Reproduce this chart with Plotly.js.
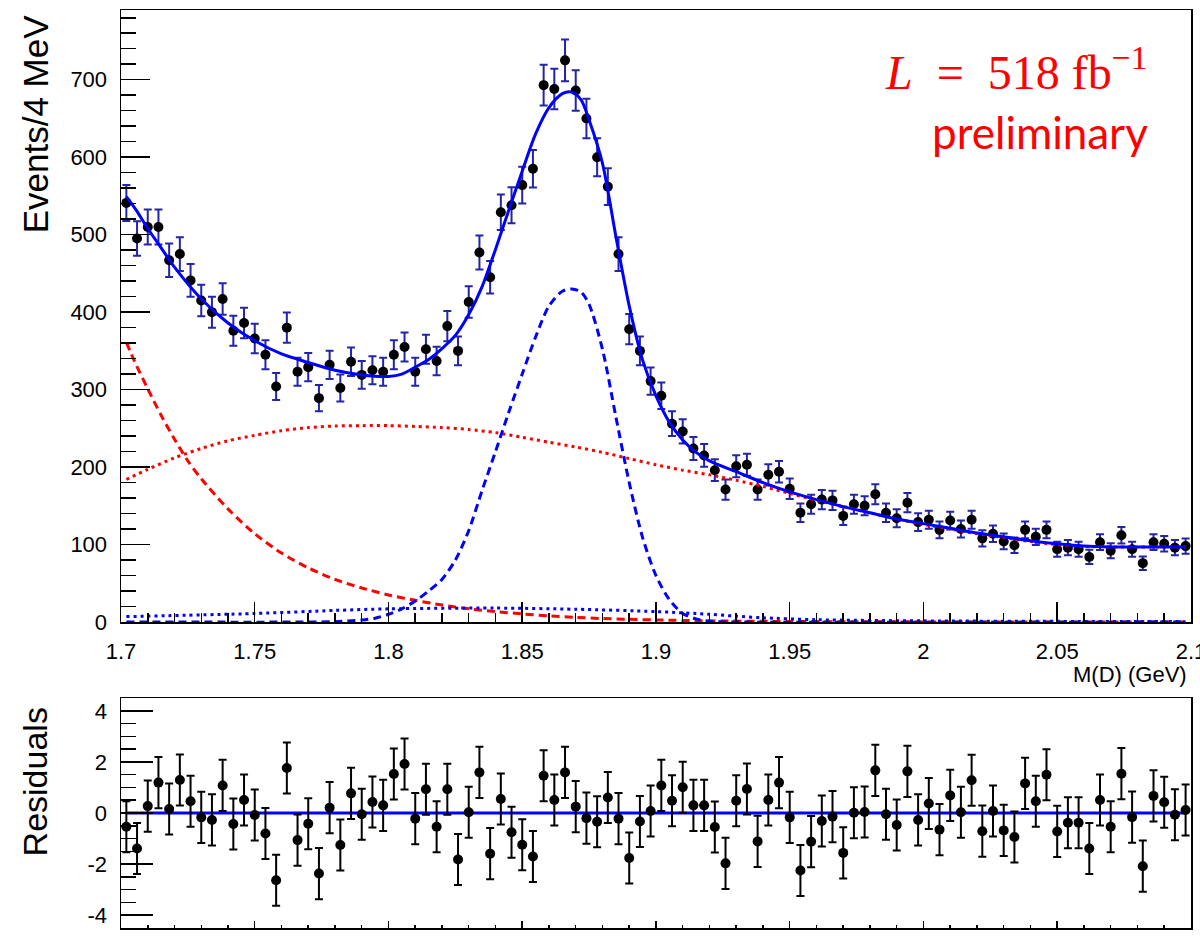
<!DOCTYPE html>
<html>
<head>
<meta charset="utf-8">
<script src="https://cdn.plot.ly/plotly-3.0.1.min.js"></script>
<style>
html,body{margin:0;padding:0;background:#fff;}
#chart{width:1200px;height:947px;}
</style>
</head>
<body>
<div id="chart"></div>
<script>
// ---------- data ----------
const binStart = 1.702;      // first bin centre (GeV)
const binWidth = 0.004;      // 4 MeV bins

const eventCounts = [
  541,495,510,510,467,475,441,415,400,417,
  376,386,366,345,304,380,323,329,289,332,
  302,336,319,325,323,345,355,323,352,337,
  382,350,413,477,445,529,538,564,585,693,
  688,725,686,650,600,562,475,378,350,311,
  292,256,246,224,215,196,171,201,203,171,
  190,194,172,141,152,158,157,137,152,150,
  165,141,134,154,129,132,119,131,120,132,
  108,114,104,99,119,110,119,94,96,94,
  84,103,92,112,94,76,103,101,96,98
];

const residuals = [
  -0.54,-1.39,0.27,1.19,0.16,1.29,0.46,-0.17,-0.27,1.08,
  -0.43,0.51,-0.08,-0.80,-2.63,1.76,-1.06,-0.42,-2.37,0.21,
  -1.25,0.77,-0.05,0.43,0.30,1.53,1.92,-0.22,0.93,-0.54,
  0.93,-1.82,0.03,1.59,-1.59,0.55,-0.75,-1.24,-1.70,1.46,
  0.51,1.59,0.25,-0.20,-0.34,0.61,-0.22,-1.76,-0.33,0.08,
  1.08,0.48,1.01,0.30,0.30,-0.55,-1.97,0.48,0.94,-1.11,
  0.51,1.19,-0.17,-2.25,-1.12,-0.31,-0.14,-1.56,0.01,0.04,
  1.67,-0.05,-0.47,1.63,-0.27,0.37,-0.65,0.69,0.03,1.28,
  -0.71,0.08,-0.68,-0.94,1.16,0.46,1.50,-0.72,-0.38,-0.38,
  -1.39,0.51,-0.54,1.54,-0.16,-2.08,0.67,0.42,-0.07,0.12
];
const residualError = 1;

// total fit (solid blue)
const totalMass = [1.702,1.706,1.71,1.715,1.72,1.73,1.74,1.75,1.76,1.77,1.78,1.79,1.80,1.805,1.81,1.815,1.82,1.825,1.83,1.835,1.84,1.845,1.85,1.855,1.86,1.865,1.8685,1.872,1.875,1.88,1.885,1.89,1.895,1.90,1.905,1.91,1.915,1.92,1.93,1.94,1.95,1.96,1.97,1.98,1.99,2.00,2.01,2.02,2.03,2.04,2.05,2.06,2.07,2.08,2.098];
const totalFit  = [549,530,508,483,458,417,386,363,346,335,325,319,317,320,329,339,353,370,397,433,481,532,582,630,664,682,684,674,648,592,498,408,338,292,258,235,219,208,194,180,168,158,149,141,133,127,121,115,110,105,101,98,97,97,97];

// signal (dashed blue)
const signalMass = [1.702,1.77,1.78,1.79,1.795,1.80,1.805,1.81,1.815,1.82,1.825,1.83,1.835,1.84,1.845,1.85,1.855,1.86,1.865,1.8685,1.872,1.875,1.88,1.885,1.89,1.895,1.90,1.905,1.91,1.915,1.92,1.93,2.098];
const signalFit  = [0,0,0.5,2.5,5,10,17,27,40,55,80,118,170,220,271,320,368,408,427,430,426,410,352,265,180,109,60,29,11,4,1,0,0];

// peaking background (dashed red)
const peakBkgMass = [1.702,1.705,1.71,1.715,1.72,1.725,1.73,1.74,1.75,1.76,1.77,1.78,1.79,1.80,1.81,1.82,1.83,1.84,1.85,1.86,1.87,1.88,1.89,1.90,1.92,1.95,2.00,2.098];
const peakBkgFit  = [361,337,301,267,236,208,185,146,114,89,70,55,44,35,28,22,17,13.5,10.5,8,6,4.5,3.5,2.7,1.5,0.7,0.2,0];

// combinatorial background (dotted red)
const combBkgMass = [1.702,1.71,1.72,1.73,1.74,1.75,1.76,1.77,1.78,1.79,1.80,1.81,1.82,1.83,1.84,1.85,1.86,1.87,1.88,1.89,1.90,1.91,1.92,1.93,1.94,1.95,1.96,1.97,1.98,1.99,2.00,2.01,2.02,2.03,2.04,2.05,2.06,2.07,2.08,2.098];
const combBkgFit  = [184,197,212,224,234,241,247,251,253,253.5,253.5,252.5,251,248.5,244.5,238.5,232,226,219,211,203,196,190,183,175,166,157,149,141,133,126,120,114,109,104,100,97.5,97,97,97];

// small background (dotted blue)
const smallBkgMass = [1.702,1.75,1.78,1.80,1.84,1.87,1.90,1.92,1.93,1.94,1.96,2.00,2.098];
const smallBkgFit  = [7,11,15,17,18,16.5,13.5,10,7.5,5.5,3,1.5,0.5];

// residual reference line
const zeroLineMass = [1.702, 2.098];
const zeroLineValue = [0, 0];

// tick labels
const xTickVals = [1.7,1.75,1.8,1.85,1.9,1.95,2.0,2.05,2.1];
const xTickText = ['1.7','1.75','1.8','1.85','1.9','1.95','2','2.05','2.1'];
const yTickVals = [0,100,200,300,400,500,600,700];
const yTickText = ['0','100','200','300','400','500','600','700'];
const rTickVals = [-4,-2,0,2,4];
const rTickText = ['-4','-2','0','2','4'];

// ---------- build ----------
const binCenters = eventCounts.map((_, i) => +(binStart + i * binWidth).toFixed(4));
const countErrors = eventCounts.map(v => Math.sqrt(v));

const tickFont = {family: '"Liberation Sans Narrow","Liberation Sans",Arial,sans-serif', size: 22, color: '#000'};
const titleFamily = '"Liberation Sans",Arial,sans-serif';

const curveLine = (color, dash) => ({color: color, width: 3, dash: dash, shape: 'spline', smoothing: 0.8});

const traces = [
  {x: binCenters, y: eventCounts, type: 'scatter', mode: 'markers', xaxis: 'x', yaxis: 'y',
   marker: {color: '#000', size: 10},
   error_y: {type: 'data', array: countErrors, visible: true, color: '#2424a8', thickness: 2, width: 4}},
  {x: peakBkgMass, y: peakBkgFit, type: 'scatter', mode: 'lines', xaxis: 'x', yaxis: 'y', line: curveLine('#ff0000', '8px,5px')},
  {x: combBkgMass, y: combBkgFit, type: 'scatter', mode: 'lines', xaxis: 'x', yaxis: 'y', line: curveLine('#ff0000', '3px,4px')},
  {x: smallBkgMass, y: smallBkgFit, type: 'scatter', mode: 'lines', xaxis: 'x', yaxis: 'y', line: curveLine('#0000ff', '3px,4px')},
  {x: signalMass, y: signalFit, type: 'scatter', mode: 'lines', xaxis: 'x', yaxis: 'y', line: curveLine('#0000ff', '8px,5px')},
  {x: totalMass, y: totalFit, type: 'scatter', mode: 'lines', xaxis: 'x', yaxis: 'y', line: curveLine('#0000ff', 'solid')},
  {x: zeroLineMass, y: zeroLineValue, type: 'scatter', mode: 'lines', xaxis: 'x2', yaxis: 'y2', line: {color: '#0000ff', width: 3}},
  {x: binCenters, y: residuals, type: 'scatter', mode: 'markers', xaxis: 'x2', yaxis: 'y2',
   marker: {color: '#000', size: 10},
   error_y: {type: 'constant', value: residualError, visible: true, color: '#000', thickness: 2, width: 4}}
];

const axisCommon = {showline: true, mirror: true, linecolor: '#000', linewidth: 1.5, showgrid: false, zeroline: false,
  ticks: 'inside', tickcolor: '#000', tickwidth: 1.5, tickfont: tickFont};

const xRange = [1.7, 2.10002];

const layout = {
  width: 1200, height: 947,
  margin: {l: 121, r: 9, t: 10, b: 19},
  paper_bgcolor: '#fff', plot_bgcolor: '#fff',
  showlegend: false,
  xaxis: Object.assign({}, axisCommon, {domain: [0, 1], anchor: 'y', range: xRange,
    tickmode: 'array', tickvals: xTickVals, ticktext: xTickText, ticklen: 20, ticklabelstandoff: 9,
    ticklabeloverflow: 'allow',
    minor: {tickmode: 'linear', tick0: 1.7, dtick: 0.01, ticklen: 9, ticks: 'inside', tickcolor: '#000', tickwidth: 1.5}}),
  yaxis: Object.assign({}, axisCommon, {domain: [0.3333, 1], anchor: 'x', range: [0, 790],
    tickmode: 'array', tickvals: yTickVals, ticktext: yTickText, ticklen: 29, ticklabelstandoff: 8,
    minor: {tickmode: 'linear', tick0: 0, dtick: 20, ticklen: 15, ticks: 'inside', tickcolor: '#000', tickwidth: 1.5}}),
  xaxis2: Object.assign({}, axisCommon, {domain: [0, 1], anchor: 'y2', range: xRange, showticklabels: false,
    tickmode: 'array', tickvals: xTickVals, ticklen: 7,
    minor: {tickmode: 'linear', tick0: 1.7, dtick: 0.01, ticklen: 3.5, ticks: 'inside', tickcolor: '#000', tickwidth: 1.5}}),
  yaxis2: Object.assign({}, axisCommon, {domain: [0, 0.2505], anchor: 'x2', range: [-4.5, 4.5],
    tickmode: 'array', tickvals: rTickVals, ticktext: rTickText, ticklen: 32, ticklabelstandoff: 8,
    minor: {tickmode: 'linear', tick0: 0, dtick: 0.5, ticklen: 15, ticks: 'inside', tickcolor: '#000', tickwidth: 1.5}}),
  annotations: [
    {text: 'Events/4 MeV', xref: 'paper', yref: 'paper', x: -0.0804, y: 0.998, xanchor: 'center', yanchor: 'top',
     textangle: -90, showarrow: false, font: {family: titleFamily, size: 35, color: '#000'}},
    {text: 'Residuals', xref: 'paper', yref: 'paper', x: -0.0804, y: 0.243, xanchor: 'center', yanchor: 'top',
     textangle: -90, showarrow: false, font: {family: titleFamily, size: 34, color: '#000'}},
    {text: 'M(D) (GeV)', xref: 'paper', yref: 'paper', x: 0.998, y: 0.2765, xanchor: 'right', yanchor: 'middle',
     showarrow: false, font: tickFont},
    {text: '<i>L</i>\u2002=\u2002518 fb<sup>\u22121</sup>', xref: 'paper', yref: 'paper', x: 0.962, y: 0.9355, xanchor: 'right', yanchor: 'middle',
     showarrow: false, font: {family: '"Liberation Serif","DejaVu Serif",serif', size: 48, color: '#ff0000'}},
    {text: 'preliminary', xref: 'paper', yref: 'paper', x: 0.962, y: 0.8675, xanchor: 'right', yanchor: 'middle',
     showarrow: false, font: {family: 'Lato,"Liberation Sans",sans-serif', size: 44, color: '#ff0000'}}
  ]
};

Plotly.newPlot('chart', traces, layout, {staticPlot: true, displayModeBar: false});
</script>
</body>
</html>
